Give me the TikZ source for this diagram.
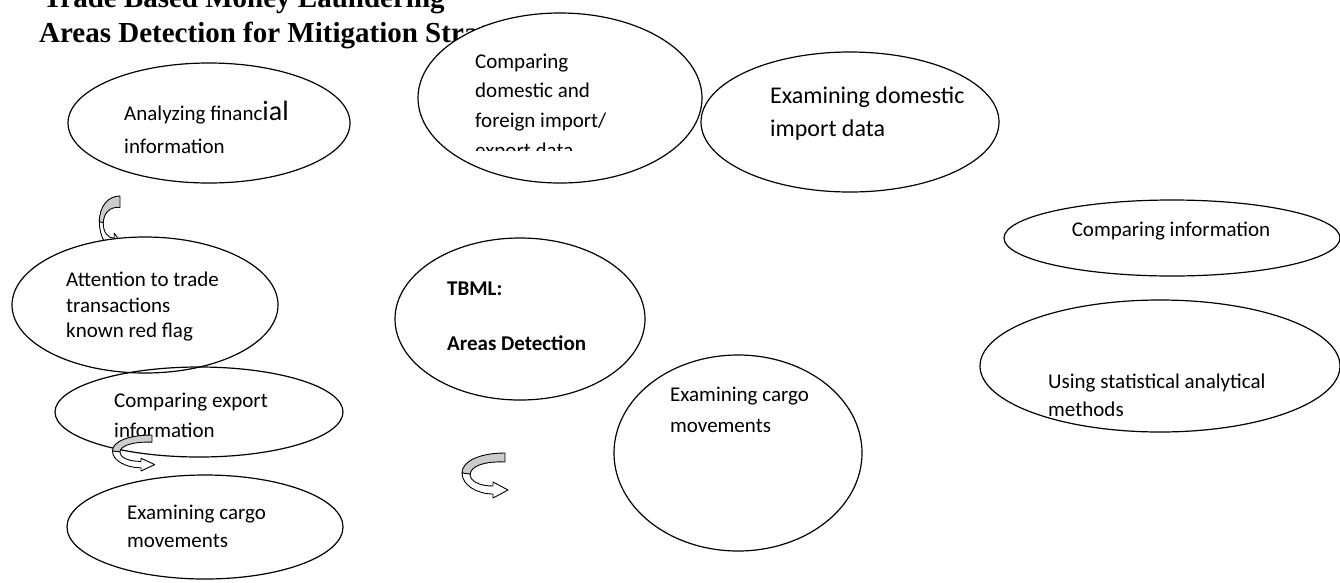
\documentclass[tikz,border=0pt]{standalone}
\usepackage{fontspec}
\setmainfont{Carlito}
\newfontfamily\titlefont{Liberation Serif}
\usetikzlibrary{shapes.geometric}
\tikzset{
  ell/.style={ellipse, draw=black, line width=1.2pt, inner sep=0pt, fill=white},
  ellopen/.style={ellipse, draw=black, line width=1.2pt, inner sep=0pt},
  txt/.style={anchor=base west, inner sep=0pt, font=\fontsize{21}{26}\selectfont},
  bigtxt/.style={anchor=base west, inner sep=0pt, font=\fontsize{24}{30}\selectfont},
  boldtxt/.style={anchor=base west, inner sep=0pt, font=\fontsize{21}{26}\selectfont\bfseries},
  ttl/.style={anchor=base west, inner sep=0pt, font=\fontsize{29}{35}\selectfont\titlefont\bfseries},
  curvarr/.pic={
    \filldraw[fill=gray!40, draw=black, line width=0.9pt, line join=round]
      (0,0) .. controls (-25,0) and (-43,8) .. (-43,20)
      -- (-35,22) .. controls (-35,13) and (-20,8) .. (0,9) -- cycle;
    \filldraw[fill=white, draw=black, line width=0.9pt, line join=round]
      (-43,20) .. controls (-43,32) and (-28,41) .. (-12,41)
      -- (-12,45) -- (3,37) -- (-12,29) -- (-12,33)
      .. controls (-26,33) and (-35,28) .. (-35,21) -- cycle;
  }
}
\begin{document}
\begin{tikzpicture}[x=1pt,y=-1pt]
\useasboundingbox (0,0) rectangle (1340,582);
\fill[white] (0,0) rectangle (1340,582);

% title
\node[ttl] (t1) at (43,7) {Trade Based Money Laundering};
\node[ttl] (t2) at (39,42) {Areas Detection for Mitigation Strategies};

% ellipse 1
\node[ell, minimum width=282pt, minimum height=120pt] (e1) at (209,123) {};
\node[txt] (e1a) at (124,120) {Analyzing financ{\fontsize{28}{30}\selectfont ial}};
\node[txt] (e1b) at (124,153) {information};

% ellipse 2
\node[ell, minimum width=284pt, minimum height=170pt] (e2) at (560,98) {};
\node[txt] (e2a) at (475,68) {Comparing};
\node[txt] (e2b) at (475,97) {domestic and};
\node[txt] (e2c) at (475,127) {foreign import/};
\begin{scope}
\clip (470,135) rectangle (700,150.7);
\node[txt] (e2d) at (475,157) {export data};
\end{scope}

% ellipse 3
\node[ell, minimum width=298pt, minimum height=140pt] (e3) at (850,122) {};
\node[bigtxt] (e3a) at (770,103) {Examining domestic};
\node[bigtxt] (e3b) at (770,136) {import data};

% ellipse 4
\node[ell, minimum width=336pt, minimum height=76pt] (e4) at (1172,238) {};
\node[txt, anchor=base] (e4a) at (1171,236) {Comparing information};

% ellipse 5
\node[ell, minimum width=360pt, minimum height=132pt] (e5) at (1160,366) {};
\node[txt] (e5a) at (1048,388) {Using statistical analytical};
\node[txt] (e5b) at (1048,416) {methods};

% curved arrow A (behind ellipse 6)
\pic[xscale=0.48, yscale=1.28] (arrA) at (120,196) {curvarr};

% ellipse 6
\node[ell, minimum width=266pt, minimum height=136pt] (e6) at (145,305) {};
\node[txt] (e6a) at (66,286) {Attention to trade};
\node[txt] (e6b) at (66,312) {transactions};
\node[txt] (e6c) at (66,337) {known red flag};

% ellipse 7
\node[ellopen, minimum width=288pt, minimum height=90pt] (e7) at (199,412) {};
\node[txt] (e7a) at (114,407) {Comparing export};
\node[txt] (e7b) at (114,437) {information};

% curved arrow B
\pic[xscale=0.92, yscale=0.8] (arrB) at (152,435) {curvarr};

% ellipse 8
\node[ell, minimum width=276pt, minimum height=104pt] (e8) at (205,527) {};
\node[txt] (e8a) at (127,519) {Examining cargo};
\node[txt] (e8b) at (127,547) {movements};

% ellipse 9
\node[ell, minimum width=250pt, minimum height=162pt] (e9) at (520,319) {};
\node[boldtxt] (e9a) at (447,295) {TBML:};
\node[boldtxt] (e9b) at (447,350) {Areas Detection};

% curved arrow C
\pic (arrC) at (505,453) {curvarr};

% ellipse 10
\node[ell, minimum width=248pt, minimum height=196pt] (e10) at (738,453) {};
\node[txt] (e10a) at (670,401) {Examining cargo};
\node[txt] (e10b) at (670,432) {movements};
\end{tikzpicture}
\end{document}
